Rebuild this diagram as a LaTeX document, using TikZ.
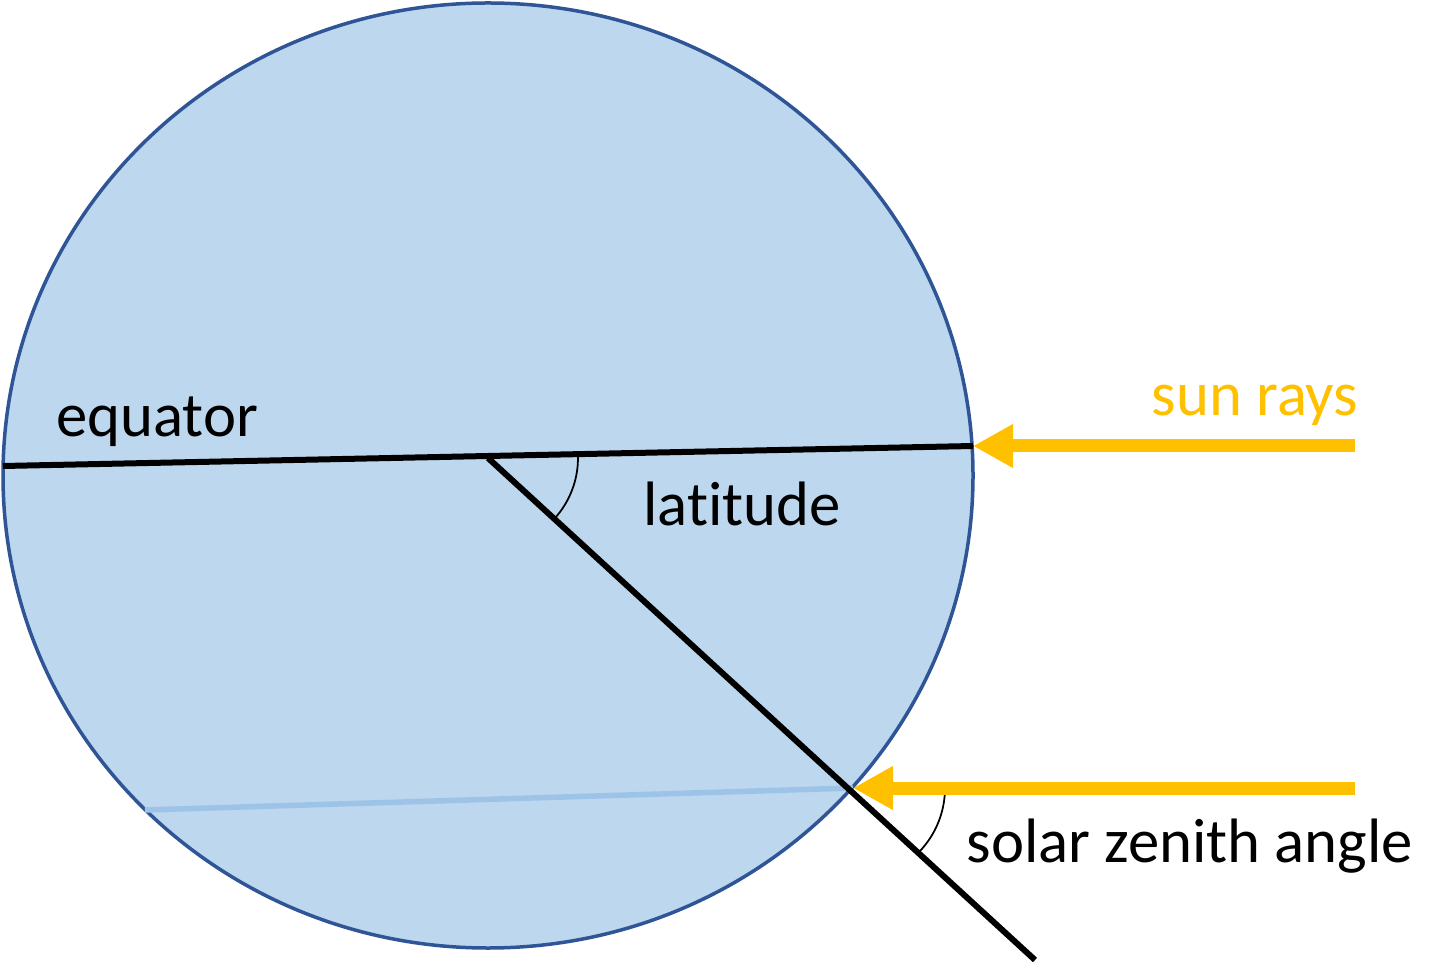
\documentclass[tikz,border=0pt]{standalone}
\usepackage{fontspec}
\setmainfont{Carlito}[Ligatures=NoCommon]
\usetikzlibrary{arrows.meta,angles}
\definecolor{globefill}{HTML}{BDD7EE}
\definecolor{globeline}{HTML}{2F5597}
\definecolor{parallel}{HTML}{9DC3E6}
\definecolor{sunray}{HTML}{FFC000}

\begin{document}
\begin{tikzpicture}[x=0.02cm, y=0.02cm, font=\fontsize{35.7}{42}\selectfont]
\tikzset{
  globe/.style={draw=globeline, fill=globefill, line width=0.07cm},
  axis/.style={line width=0.12cm, black},
  ray/.style={-{Triangle[length=0.8cm, width=0.82cm]}, line width=0.26cm, sunray},
  anglemark/.style={draw, line width=0.035cm, angle radius=1.8cm},
}
\useasboundingbox (0,0) rectangle (1456,964);
% earth
\draw[globe] (488,488.5) ellipse [x radius=485, y radius=472.5];
\coordinate (ctr) at (488,506);
\coordinate (eqW) at (3,498);
\coordinate (eqE) at (973,518);
\coordinate (pole) at (1035,4);
\coordinate (hit) at (853,176);
\coordinate (parW) at (145,154);
\coordinate (rayA) at (1355,518);
\coordinate (rayB) at (1355,176);
% lines
\draw[parallel, line width=0.11cm] (parW) -- (hit);
\draw[axis] (eqW) -- (eqE);
\draw[axis] (ctr) -- (pole);
\pic[anglemark] {angle = pole--ctr--eqE};
\pic[anglemark, angle radius=1.84cm] {angle = pole--hit--rayB};
% sun rays
\draw[ray] (rayA) -- (eqE);
\draw[ray] (rayB) -- (hit);
% labels
\node (equator) at (157,542) {equator};
\node (latitude) at (742,460) {latitude};
\node[text=sunray] (sun) at (1255,559) {sun rays};
\node (zenith) at (1190,118) {solar zenith angle};
\end{tikzpicture}
\end{document}
